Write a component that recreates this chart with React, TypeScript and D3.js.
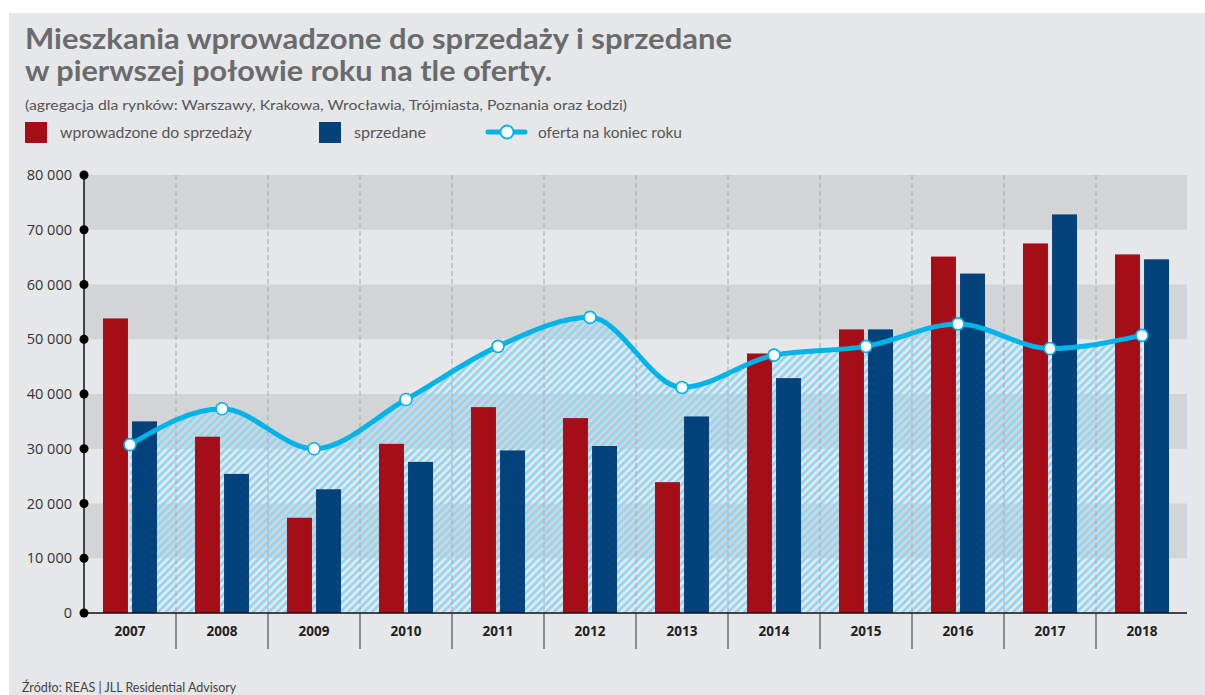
import React from "react";
import * as d3 from "d3";

const years = ["2007","2008","2009","2010","2011","2012","2013","2014","2015","2016","2017","2018"];
const introduced = [53800, 32200, 17400, 30900, 37600, 35600, 23900, 47400, 51800, 65100, 67500, 65500];
const sold = [35000, 25400, 22600, 27600, 29700, 30500, 35900, 42900, 51800, 62000, 72800, 64600];
const offer = [30750, 37300, 30000, 39000, 48700, 54000, 41200, 47100, 48700, 52800, 48300, 50700];
const yTicks = [0, 10000, 20000, 30000, 40000, 50000, 60000, 70000, 80000];

const titleLines = [
  "Mieszkania wprowadzone do sprzedaży i sprzedane",
  "w pierwszej połowie roku na tle oferty.",
];
const subtitle = "(agregacja dla rynków: Warszawy, Krakowa, Wrocławia, Trójmiasta, Poznania oraz Łodzi)";
const legendLabels = ["wprowadzone do sprzedaży", "sprzedane", "oferta na koniec roku"];
const source = "Źródło: REAS | JLL Residential Advisory";

const RED = "#a50e16";
const BLUE = "#03427a";
const CYAN = "#00b3e8";
const HATCH = "#8fd6f5";
const BG = "#e6e7e9";
const BAND = "#d3d4d6";

export default function App() {
  const left = 84, right = 1187, top = 175, bottom = 613;
  const x = d3.scaleBand<string>().domain(years).range([left, left + 92 * 12]).padding(0);
  const x1 = d3.scaleBand<string>().domain(["a", "b"]).range([19, 73]).paddingInner(0.14);
  const y = d3.scaleLinear().domain([0, 80000]).range([bottom, top]);
  const fmt = (v: number) => d3.format(",")(v).replace(/,/g, " ");
  const cx = (yr: string) => (x(yr) as number) + x.bandwidth() / 2;

  const pts: [number, number][] = years.map((yr, i) => [cx(yr), y(offer[i])]);
  const line = d3.line().curve(d3.curveMonotoneX)(pts) as string;
  const area = d3
    .area<[number, number]>()
    .x((d) => d[0])
    .y0(y(0))
    .y1((d) => d[1])
    .curve(d3.curveMonotoneX)(pts) as string;

  const bands = [
    [70000, 80000],
    [50000, 60000],
    [30000, 40000],
    [10000, 20000],
  ];
  const boundaries = years.slice(1).map((yr) => x(yr) as number);
  const titleWidths = [707, 527];

  return (
    <svg width={1205} height={695} style={{ position: "absolute", left: 0, top: 0 }}>
      <defs>
        <pattern id="hatch" width={5.6} height={10} patternUnits="userSpaceOnUse" patternTransform="rotate(45)">
          <rect x={0} y={0} width={2.7} height={10} fill={HATCH} />
        </pattern>
      </defs>
      <rect x={0} y={0} width={1205} height={695} fill="#ffffff" />
      <rect x={9} y={13} width={1196} height={682} fill={BG} />

      {titleLines.map((t, i) => (
        <text
          key={i}
          x={25}
          y={49 + i * 32}
          fontFamily="Lato"
          fontWeight={700}
          fontSize={28}
          fill="#6a6b6d"
          textLength={titleWidths[i]}
          lengthAdjust="spacingAndGlyphs"
        >
          {t}
        </text>
      ))}
      <text x={25} y={110} fontFamily="Lato" fontSize={14} fill="#555" textLength={602} lengthAdjust="spacingAndGlyphs">
        {subtitle}
      </text>

      {/* legend */}
      <rect x={25} y={122} width={22} height={21} fill={RED} />
      <text x={60} y={138} fontFamily="Lato" fontSize={15.5} fill="#555" textLength={192} lengthAdjust="spacingAndGlyphs">{legendLabels[0]}</text>
      <rect x={319} y={122} width={22} height={21} fill={BLUE} />
      <text x={354} y={138} fontFamily="Lato" fontSize={15.5} fill="#555" textLength={72} lengthAdjust="spacingAndGlyphs">{legendLabels[1]}</text>
      <line x1={488} x2={525} y1={132} y2={132} stroke={CYAN} strokeWidth={5} strokeLinecap="round" />
      <circle cx={507} cy={132} r={6.5} fill="#fff" stroke={CYAN} strokeWidth={1.8} />
      <text x={538} y={138} fontFamily="Lato" fontSize={15.5} fill="#555" textLength={144} lengthAdjust="spacingAndGlyphs">{legendLabels[2]}</text>

      {/* bands */}
      {bands.map(([a, b], i) => (
        <rect key={i} x={left} y={y(b)} width={right - left} height={y(a) - y(b)} fill={BAND} />
      ))}

      {/* hatched area */}
      <path d={area} fill="url(#hatch)" />

      {/* dashed verticals */}
      {boundaries.map((bx, i) => (
        <line key={i} x1={bx} x2={bx} y1={top} y2={bottom} stroke="#a9aaac" strokeWidth={1} strokeDasharray="5,3" />
      ))}

      {/* bars */}
      {years.map((yr, i) => (
        <g key={yr}>
          <rect
            x={(x(yr) as number) + (x1("a") as number)}
            y={y(introduced[i])}
            width={x1.bandwidth()}
            height={y(0) - y(introduced[i])}
            fill={RED}
          />
          <rect
            x={(x(yr) as number) + (x1("b") as number)}
            y={y(sold[i])}
            width={x1.bandwidth()}
            height={y(0) - y(sold[i])}
            fill={BLUE}
          />
        </g>
      ))}

      {/* offer line */}
      <path d={line} fill="none" stroke={CYAN} strokeWidth={5} strokeLinejoin="round" />
      {pts.map((p, i) => (
        <circle key={i} cx={p[0]} cy={p[1]} r={6} fill="#fff" stroke={CYAN} strokeWidth={1.6} />
      ))}

      {/* axes */}
      <line x1={left} x2={left} y1={top} y2={bottom} stroke="#111" strokeWidth={1.5} />
      <line x1={left} x2={right} y1={bottom} y2={bottom} stroke="#111" strokeWidth={1.5} />
      {yTicks.map((t) => (
        <g key={t}>
          <circle cx={left} cy={y(t)} r={4.5} fill="#000" />
          <text x={72} y={y(t)} dy="0.35em" textAnchor="end" fontFamily="Open Sans" fontSize={14.5} fill="#333">
            {fmt(t)}
          </text>
        </g>
      ))}
      {boundaries.map((bx, i) => (
        <line key={i} x1={bx} x2={bx} y1={bottom} y2={649} stroke="#333" strokeWidth={1} />
      ))}
      {years.map((yr) => (
        <text key={yr} x={cx(yr)} y={636} textAnchor="middle" fontFamily="Open Sans" fontWeight={700} fontSize={13.5} fill="#222">
          {yr}
        </text>
      ))}

      <text x={22} y={692} fontFamily="Lato" fontSize={12.5} fill="#444">
        {source}
      </text>
    </svg>
  );
}
